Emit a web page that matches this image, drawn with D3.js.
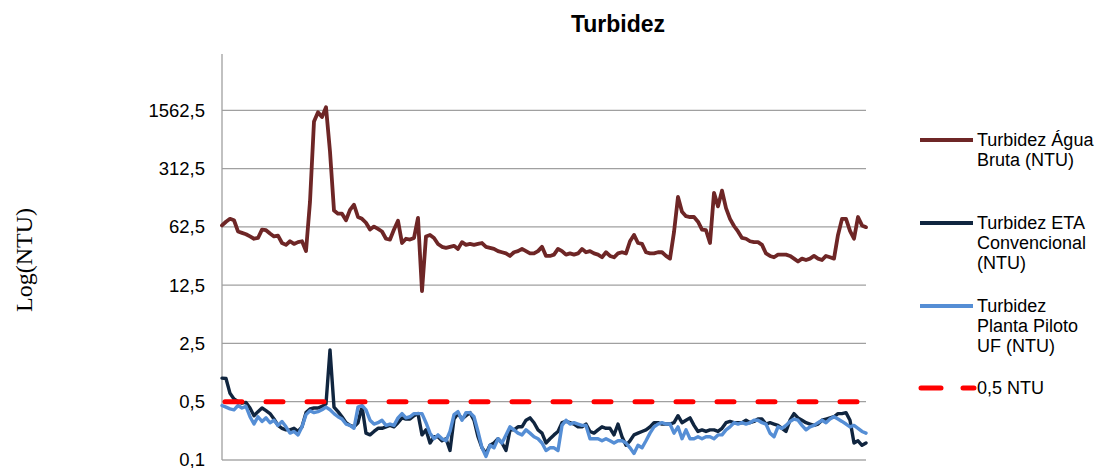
<!DOCTYPE html>
<html>
<head>
<meta charset="utf-8">
<script src="https://cdn.jsdelivr.net/npm/d3@7/dist/d3.min.js"></script>
<style>
  html, body { margin: 0; padding: 0; background: #fff; }
  svg { display: block; }
</style>
</head>
<body>
<svg id="chart" width="1097" height="468"></svg>
<script>
// ---------------- data ----------------
const days = d3.range(1, 163); // sample index (daily readings)

const aguaBruta = [
  65, 72, 78, 75, 55, 53, 51, 48, 45, 46,
  58, 57, 52, 48, 49, 40, 38, 42, 39, 41,
  42, 32, 125, 1150, 1480, 1300, 1700, 500, 98, 90,
  90, 75, 100, 115, 82, 78, 70, 58, 63, 59,
  55, 45, 44, 58, 74, 40, 45, 44, 46, 80,
  10.6, 48, 50, 46, 39, 36, 35, 36, 37, 34,
  41, 38, 39, 38, 39, 40, 36, 35, 34, 32,
  31, 30, 28, 31, 32, 34, 32, 30, 30, 32,
  36, 28, 28, 29, 34, 32, 29, 30, 29, 30,
  34, 31, 32, 30, 29, 27, 31, 28, 27, 30,
  31, 30, 42, 50, 40, 39, 31, 30, 30, 31,
  31, 28, 26, 54, 143, 95, 84, 82, 82, 72,
  58, 57, 40, 160, 110, 170, 105, 78, 64, 55,
  46, 45, 42, 41, 41, 38, 30, 28, 27, 29,
  29, 29, 28, 26, 24, 26, 25, 26, 28, 26,
  25, 28, 27, 26, 50, 78, 78, 56, 45, 82,
  65, 62
];

const etaConvencional = [
  0.96, 0.95, 0.63, 0.54, 0.50, 0.48, 0.49, 0.42, 0.34, 0.38,
  0.42, 0.39, 0.36, 0.31, 0.26, 0.24, 0.23, 0.23, 0.24, 0.22,
  0.25, 0.37, 0.41, 0.42, 0.42, 0.44, 0.47, 2.09, 0.43, 0.38,
  0.33, 0.28, 0.26, 0.25, 0.28, 0.44, 0.21, 0.20, 0.22, 0.24,
  0.24, 0.25, 0.26, 0.25, 0.28, 0.32, 0.31, 0.31, 0.34, 0.36,
  0.20, 0.23, 0.16, 0.19, 0.19, 0.17, 0.18, 0.13, 0.31, 0.36,
  0.31, 0.34, 0.37, 0.30, 0.19, 0.14, 0.12, 0.15, 0.16, 0.18,
  0.16, 0.13, 0.23, 0.23, 0.25, 0.25, 0.30, 0.32, 0.28, 0.23,
  0.21, 0.16, 0.18, 0.20, 0.22, 0.28, 0.29, 0.28, 0.27, 0.25,
  0.25, 0.27, 0.22, 0.21, 0.23, 0.25, 0.24, 0.24, 0.20, 0.27,
  0.19, 0.15, 0.17, 0.20, 0.21, 0.22, 0.23, 0.25, 0.28, 0.28,
  0.27, 0.27, 0.27, 0.28, 0.34, 0.28, 0.30, 0.32, 0.26, 0.22,
  0.23, 0.22, 0.23, 0.23, 0.22, 0.24, 0.28, 0.29, 0.28, 0.28,
  0.28, 0.30, 0.28, 0.29, 0.31, 0.31, 0.27, 0.28, 0.27, 0.26,
  0.24, 0.22, 0.30, 0.36, 0.32, 0.30, 0.28, 0.27, 0.26, 0.27,
  0.30, 0.31, 0.32, 0.33, 0.36, 0.36, 0.37, 0.30, 0.16, 0.17,
  0.15, 0.16
];

const plantaPilotoUF = [
  0.45, 0.43, 0.41, 0.40, 0.45, 0.42, 0.44, 0.33, 0.27, 0.33,
  0.29, 0.32, 0.28, 0.30, 0.26, 0.29, 0.25, 0.21, 0.22, 0.20,
  0.25, 0.35, 0.39, 0.37, 0.38, 0.40, 0.43, 0.40, 0.36, 0.33,
  0.31, 0.27, 0.26, 0.24, 0.43, 0.45, 0.40, 0.30, 0.27, 0.28,
  0.30, 0.26, 0.27, 0.26, 0.32, 0.36, 0.32, 0.33, 0.36, 0.36,
  0.36, 0.28, 0.21, 0.18, 0.20, 0.18, 0.17, 0.22, 0.35, 0.38,
  0.30, 0.37, 0.37, 0.33, 0.22, 0.14, 0.11, 0.15, 0.14, 0.18,
  0.16, 0.20, 0.25, 0.23, 0.21, 0.20, 0.23, 0.21, 0.19, 0.18,
  0.16, 0.13, 0.14, 0.14, 0.13, 0.26, 0.30, 0.27, 0.28, 0.27,
  0.26, 0.26, 0.18, 0.18, 0.18, 0.17, 0.18, 0.17, 0.16, 0.17,
  0.17, 0.16, 0.14, 0.12, 0.15, 0.14, 0.17, 0.21, 0.25, 0.27,
  0.28, 0.27, 0.27, 0.21, 0.25, 0.18, 0.23, 0.18, 0.18, 0.19,
  0.18, 0.19, 0.19, 0.18, 0.20, 0.20, 0.23, 0.25, 0.28, 0.27,
  0.28, 0.27, 0.28, 0.30, 0.30, 0.28, 0.27, 0.21, 0.19, 0.25,
  0.24, 0.26, 0.29, 0.31, 0.30, 0.26, 0.23, 0.25, 0.26, 0.28,
  0.30, 0.28, 0.31, 0.33, 0.31, 0.29, 0.27, 0.25, 0.26, 0.24,
  0.22, 0.21
];

const limite = 0.5; // 0,5 NTU reference

const tickValues = [0.1, 0.5, 2.5, 12.5, 62.5, 312.5, 1562.5];
const tickLabels = ["0,1", "0,5", "2,5", "12,5", "62,5", "312,5", "1562,5"];

const seriesNames = [
  ["Turbidez Água", "Bruta (NTU)"],
  ["Turbidez ETA", "Convencional", "(NTU)"],
  ["Turbidez", "Planta Piloto", "UF (NTU)"],
  ["0,5 NTU"]
];
const seriesColors = ["#6E2626", "#10253F", "#558ED5", "#FF0000"];

// ---------------- chart ----------------
const svg = d3.select("#chart");
const plot = { left: 222, right: 866, top: 52, bottom: 460 };

const x = d3.scaleLinear().domain([0, days.length - 1]).range([plot.left, plot.right]);
const y = d3.scaleLog().base(5).domain([0.1, 7812.5]).range([plot.bottom, plot.top]);

// gridlines
svg.append("g")
  .selectAll("line")
  .data(tickValues)
  .join("line")
  .attr("x1", plot.left).attr("x2", plot.right)
  .attr("y1", d => y(d)).attr("y2", d => y(d))
  .attr("stroke", d => d === 0.1 ? "#BFBFBF" : "#A0A0A0")
  .attr("stroke-width", d => d === 0.1 ? 2 : 1.3);

// y axis
const yAxis = d3.axisLeft(y)
  .tickValues(tickValues)
  .tickSize(0)
  .tickPadding(17)
  .tickFormat((d, i) => tickLabels[i]);

const gy = svg.append("g")
  .attr("transform", `translate(${plot.left},0)`)
  .call(yAxis);
gy.select(".domain").remove();
gy.selectAll("text")
  .attr("font-family", "Liberation Sans, Arial, sans-serif")
  .attr("font-size", 18.5)
  .attr("fill", "#000");

svg.append("line")
  .attr("x1", plot.left).attr("x2", plot.left)
  .attr("y1", plot.top + 2).attr("y2", plot.bottom)
  .attr("stroke", "#A0A0A0").attr("stroke-width", 1.3);

// lines
const line = data => d3.line()
  .x((d, i) => x(i))
  .y(d => y(d))(data);

const series = [aguaBruta, etaConvencional, plantaPilotoUF];
const widths = [3.8, 3.4, 3.4];
series.forEach((s, k) => {
  svg.append("path")
    .attr("d", line(s))
    .attr("fill", "none")
    .attr("stroke", seriesColors[k])
    .attr("stroke-width", widths[k])
    .attr("stroke-linejoin", "round")
    .attr("stroke-linecap", "round");
});

// 0,5 NTU limit line
svg.append("path")
  .attr("d", line(days.map(() => limite)))
  .attr("fill", "none")
  .attr("stroke", seriesColors[3])
  .attr("stroke-width", 5)
  .attr("stroke-linecap", "round")
  .attr("stroke-dasharray", "17,24")
  .attr("transform", "translate(3,0)");

// title
svg.append("text")
  .attr("x", 618).attr("y", 32)
  .attr("text-anchor", "middle")
  .attr("font-family", "Liberation Sans, Arial, sans-serif")
  .attr("font-weight", "bold")
  .attr("font-size", 23)
  .text("Turbidez");

// y label
svg.append("text")
  .attr("transform", "translate(32,260) rotate(-90)")
  .attr("text-anchor", "middle")
  .attr("font-family", "Liberation Serif, Times New Roman, serif")
  .attr("font-size", 24)
  .text("Log(NTU)");

// legend
const legendY = [140, 223, 306, 388];
const lg = svg.append("g");
seriesNames.forEach((lines, k) => {
  const g = lg.append("g").attr("transform", `translate(0,${legendY[k]})`);
  if (k < 3) {
    g.append("line").attr("x1", 920).attr("x2", 973).attr("y1", 0).attr("y2", 0)
      .attr("stroke", seriesColors[k]).attr("stroke-width", 4);
  } else {
    g.append("line").attr("x1", 921).attr("x2", 974).attr("y1", 0).attr("y2", 0)
      .attr("stroke", seriesColors[k]).attr("stroke-width", 5)
      .attr("stroke-linecap", "round")
      .attr("stroke-dasharray", "20,22");
  }
  const t = g.append("text")
    .attr("x", 977).attr("y", 6)
    .attr("font-family", "Liberation Sans, Arial, sans-serif")
    .attr("font-size", 18)
    .attr("fill", "#000");
  lines.forEach((l, j) => {
    t.append("tspan").attr("x", 977).attr("dy", j === 0 ? 0 : 20).text(l);
  });
});
</script>
</body>
</html>
